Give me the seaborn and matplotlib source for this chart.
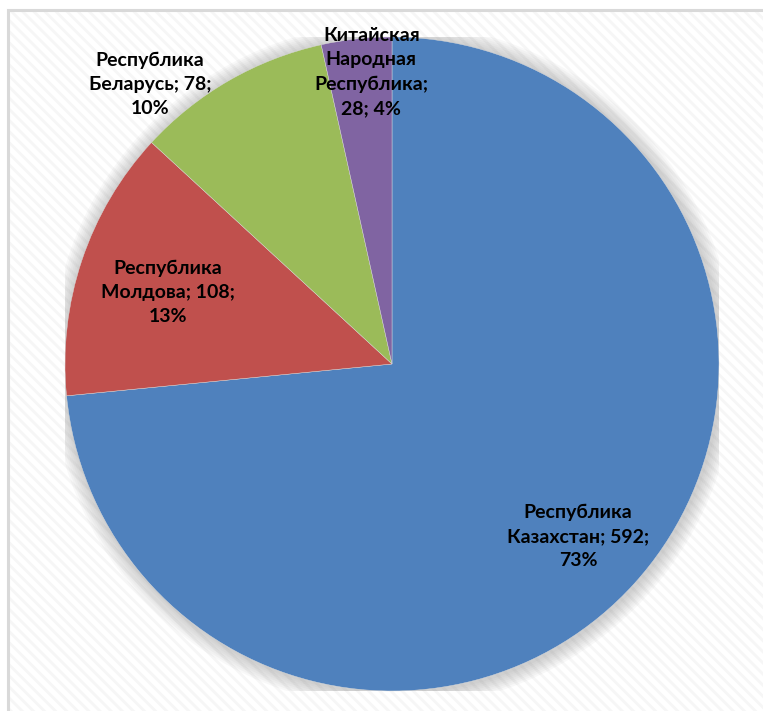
import numpy as np
import matplotlib
matplotlib.use("Agg")
import matplotlib.pyplot as plt
import seaborn as sns
from matplotlib.patches import Rectangle, Circle

countries = ["Республика\nКазахстан", "Республика\nМолдова", "Республика\nБеларусь",
             "Китайская\nНародная\nРеспублика"]
counts = [592, 108, 78, 28]
colors = ["#4F81BD", "#C0504D", "#9BBB59", "#8064A2"]

# label text as Excel wraps it
label_texts = ["Республика\nКазахстан; 592;\n73%", "Республика\nМолдова; 108;\n13%",
               "Республика\nБеларусь; 78;\n10%", "Китайская\nНародная\nРеспублика;\n28; 4%"]


def draw_chart():
    sns.set_theme(style="white")
    plt.rcParams['font.family'] = ['Lato', 'DejaVu Sans']
    plt.rcParams['hatch.linewidth'] = 2.0

    W, H = 763, 711
    fig = plt.figure(figsize=(W / 100, H / 100), dpi=100)
    fig.patch.set_facecolor("white")

    # chart area with faint diagonal stripes and a grey frame
    fig.patches.append(Rectangle((8 / W, 0), 1, (H - 10) / H, transform=fig.transFigure,
                                 facecolor="white", edgecolor="#f6f6f6", hatch="\\\\\\",
                                 linewidth=0, zorder=-3))
    fig.patches.append(Rectangle((8 / W, -0.01), 1, (H - 10) / H + 0.01, transform=fig.transFigure,
                                 facecolor="none", edgecolor="#d9d9d9", linewidth=2.2, zorder=-2))

    cx, cy, r = 392, 364, 327
    ax = fig.add_axes([(cx - r) / W, (H - cy - r) / H, 2 * r / W, 2 * r / H])
    ax.patch.set_alpha(0)

    # soft shadow around the pie
    for k in range(8):
        ax.add_patch(Circle((0.004, -0.004), 1 + 0.006 * (k + 1), color="#808080",
                            alpha=0.05, linewidth=0, zorder=0))

    wedges, _ = ax.pie(counts, colors=colors, startangle=90, counterclock=False,
                       radius=1, wedgeprops=dict(linewidth=0.3, edgecolor="#dcdcdc"))
    for w in wedges:
        w.set_zorder(2)
    ax.set_xlim(-1, 1)
    ax.set_ylim(-1, 1)
    ax.axis("off")

    # label positions: distance from centre and angle shift from the wedge middle
    dists = [0.775, 0.72, 1.13, 0.895]
    shifts = [-0.6, 0.8, 11.0, -2.2]
    for w, txt, d, s in zip(wedges, label_texts, dists, shifts):
        ang = np.deg2rad((w.theta1 + w.theta2) / 2 + s)
        ax.text(d * np.cos(ang), d * np.sin(ang), txt, ha="center", va="center",
                fontsize=14, fontweight="bold", color="black", linespacing=1.5,
                zorder=5, clip_on=False)

    fig.savefig("out.png", dpi=100)


if __name__ == "__main__":
    draw_chart()
